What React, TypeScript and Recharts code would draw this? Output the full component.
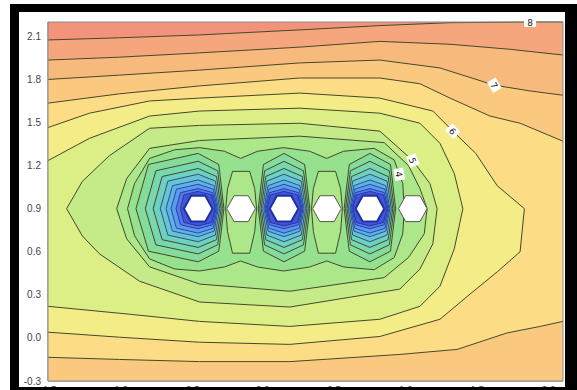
import React from 'react';
import { ScatterChart, Scatter, XAxis, YAxis } from 'recharts';

type Pt = [number, number];

const X_MIN = -1.5;
const X_MAX = 2.1;
const Y_MIN = -0.3;
const Y_MAX = 2.2;
const xTicks = [-1.5, -1.0, -0.5, 0, 0.5, 1.0, 1.5, 2.0];
const yTicks = [-0.3, 0, 0.3, 0.6, 0.9, 1.2, 1.5, 1.8, 2.1];

// open contours running from the left edge to the right edge (levels 8 .. 6.5)
const c80: Pt[] = [[-1.5, 2.075], [-1.0, 2.09], [-0.44, 2.11], [0.26, 2.145], [0.82, 2.175], [1.31, 2.195], [1.87, 2.2], [2.1, 2.2]];
const c75: Pt[] = [[-1.5, 1.935], [-1.0, 1.955], [-0.44, 1.985], [0.26, 2.025], [0.82, 2.065], [1.31, 2.045], [1.73, 2.01], [2.1, 1.97]];
const c70: Pt[] = [[-1.5, 1.8], [-1.0, 1.83], [-0.44, 1.865], [0.26, 1.915], [0.82, 1.935], [1.24, 1.88], [1.62, 1.76], [1.87, 1.72], [2.1, 1.69]];
const c65Top: Pt[] = [[-1.5, 1.635], [-1.0, 1.7], [-0.44, 1.755], [0.26, 1.81], [0.82, 1.81], [1.1, 1.77], [1.31, 1.67], [1.59, 1.545], [1.8, 1.495], [2.1, 1.37]];
const c65Bottom: Pt[] = [[-1.5, -0.135], [-1.0, -0.15], [-0.44, -0.165], [0.19, -0.165], [0.96, -0.115], [1.36, -0.08], [1.71, 0.035], [1.94, 0.08], [2.1, 0.115]];

// contours that leave the left edge and come back to it (6 and 5.5)
const c60: Pt[] = [[-1.5, 1.465], [-1.21, 1.565], [-0.79, 1.65], [-0.44, 1.67], [0.26, 1.705], [0.82, 1.67], [1.19, 1.58], [1.33, 1.44], [1.49, 1.285], [1.64, 1.06], [1.83, 0.9], [1.8, 0.6], [1.64, 0.46], [1.45, 0.305], [1.24, 0.13], [0.82, 0.01], [0.19, -0.045], [-0.44, -0.03], [-1.0, 0.005], [-1.5, 0.04]];
const c55: Pt[] = [[-1.5, 1.235], [-1.21, 1.39], [-0.79, 1.545], [-0.44, 1.58], [0.26, 1.6], [0.82, 1.565], [1.1, 1.495], [1.24, 1.355], [1.34, 1.145], [1.4, 0.9], [1.34, 0.62], [1.24, 0.36], [1.1, 0.22], [0.82, 0.13], [0.19, 0.08], [-0.44, 0.115], [-0.93, 0.165], [-1.5, 0.22]];

// closed contours around the whole row of electrodes (5, 4.5, 4)
const c50: Pt[] = [[-1.37, 0.9], [-1.26, 1.09], [-1.07, 1.27], [-0.79, 1.46], [-0.44, 1.48], [0.26, 1.495], [0.82, 1.44], [1.05, 1.235], [1.17, 1.075], [1.22, 0.9], [1.19, 0.655], [1.1, 0.48], [0.96, 0.34], [0.19, 0.215], [-0.44, 0.25], [-0.86, 0.395], [-1.14, 0.585], [-1.26, 0.71]];
const c45: Pt[] = [[-1.02, 0.9], [-0.95, 1.11], [-0.79, 1.32], [-0.44, 1.375], [0.26, 1.405], [0.85, 1.36], [1.02, 1.2], [1.1, 1.04], [1.15, 0.9], [1.13, 0.725], [1.02, 0.56], [0.85, 0.42], [0.19, 0.325], [-0.44, 0.375], [-0.79, 0.495], [-0.95, 0.69]];
const c40: Pt[] = [[-0.944, 0.9], [-0.895, 1.075], [-0.79, 1.25], [-0.615, 1.31], [-0.44, 1.325], [-0.266, 1.3], [-0.154, 1.25], [-0.035, 1.3], [0.147, 1.325], [0.329, 1.3], [0.448, 1.25], [0.566, 1.3], [0.78, 1.32], [0.92, 1.24], [0.98, 1.075], [0.99, 0.9], [0.98, 0.725], [0.92, 0.56], [0.78, 0.475], [0.566, 0.494], [0.448, 0.536], [0.329, 0.494], [0.147, 0.466], [-0.035, 0.494], [-0.154, 0.536], [-0.266, 0.494], [-0.44, 0.466], [-0.615, 0.48], [-0.79, 0.55], [-0.895, 0.711]];

// 4.0 islands around the two inner white electrodes
const lensLeft: Pt[] = [[-0.21, 1.16], [-0.09, 1.16], [-0.055, 1.04], [-0.042, 0.9], [-0.055, 0.74], [-0.09, 0.59], [-0.21, 0.59], [-0.245, 0.74], [-0.258, 0.9], [-0.245, 1.04]];
const lensRight: Pt[] = [[0.39, 1.16], [0.51, 1.16], [0.545, 1.04], [0.558, 0.9], [0.545, 0.74], [0.51, 0.59], [0.39, 0.59], [0.355, 0.74], [0.342, 0.9], [0.355, 1.04]];

// rings around the three blue electrodes, levels 3.5, 3.0 ... 0.0
const ringsA: Pt[][] = [
  [[-0.27, 0.9], [-0.306, 1.208], [-0.45, 1.285], [-0.798, 1.208], [-0.885, 0.9], [-0.798, 0.604], [-0.45, 0.53], [-0.306, 0.604]],
  [[-0.28, 0.9], [-0.314, 1.164], [-0.45, 1.23], [-0.746, 1.164], [-0.82, 0.9], [-0.746, 0.648], [-0.45, 0.585], [-0.314, 0.648]],
  [[-0.29, 0.9], [-0.322, 1.124], [-0.45, 1.18], [-0.702, 1.124], [-0.765, 0.9], [-0.702, 0.684], [-0.45, 0.63], [-0.322, 0.684]],
  [[-0.3, 0.9], [-0.33, 1.092], [-0.45, 1.14], [-0.662, 1.092], [-0.715, 0.9], [-0.662, 0.716], [-0.45, 0.67], [-0.33, 0.716]],
  [[-0.31, 0.9], [-0.338, 1.06], [-0.45, 1.1], [-0.63, 1.06], [-0.675, 0.9], [-0.63, 0.744], [-0.45, 0.705], [-0.338, 0.744]],
  [[-0.317, 0.9], [-0.344, 1.036], [-0.45, 1.07], [-0.602, 1.036], [-0.64, 0.9], [-0.602, 0.764], [-0.45, 0.73], [-0.344, 0.764]],
  [[-0.324, 0.9], [-0.349, 1.012], [-0.45, 1.04], [-0.574, 1.012], [-0.605, 0.9], [-0.574, 0.788], [-0.45, 0.76], [-0.349, 0.788]],
  [[-0.331, 0.9], [-0.355, 0.996], [-0.45, 1.02], [-0.55, 0.996], [-0.575, 0.9], [-0.55, 0.804], [-0.45, 0.78], [-0.355, 0.804]],
];
const ringsB: Pt[][] = [
  [[0.33, 0.9], [0.294, 1.208], [0.15, 1.285], [0.006, 1.208], [-0.03, 0.9], [0.006, 0.604], [0.15, 0.53], [0.294, 0.604]],
  [[0.32, 0.9], [0.286, 1.164], [0.15, 1.23], [0.014, 1.164], [-0.02, 0.9], [0.014, 0.648], [0.15, 0.585], [0.286, 0.648]],
  [[0.31, 0.9], [0.278, 1.124], [0.15, 1.18], [0.022, 1.124], [-0.01, 0.9], [0.022, 0.684], [0.15, 0.63], [0.278, 0.684]],
  [[0.3, 0.9], [0.27, 1.092], [0.15, 1.14], [0.03, 1.092], [0.0, 0.9], [0.03, 0.716], [0.15, 0.67], [0.27, 0.716]],
  [[0.29, 0.9], [0.262, 1.06], [0.15, 1.1], [0.038, 1.06], [0.01, 0.9], [0.038, 0.744], [0.15, 0.705], [0.262, 0.744]],
  [[0.283, 0.9], [0.256, 1.036], [0.15, 1.07], [0.044, 1.036], [0.017, 0.9], [0.044, 0.764], [0.15, 0.73], [0.256, 0.764]],
  [[0.276, 0.9], [0.251, 1.012], [0.15, 1.04], [0.049, 1.012], [0.024, 0.9], [0.049, 0.788], [0.15, 0.76], [0.251, 0.788]],
  [[0.269, 0.9], [0.245, 0.996], [0.15, 1.02], [0.055, 0.996], [0.031, 0.9], [0.055, 0.804], [0.15, 0.78], [0.245, 0.804]],
];
const ringsC: Pt[][] = [
  [[0.93, 0.9], [0.894, 1.208], [0.75, 1.285], [0.606, 1.208], [0.57, 0.9], [0.606, 0.604], [0.75, 0.53], [0.894, 0.604]],
  [[0.92, 0.9], [0.886, 1.164], [0.75, 1.23], [0.614, 1.164], [0.58, 0.9], [0.614, 0.648], [0.75, 0.585], [0.886, 0.648]],
  [[0.91, 0.9], [0.878, 1.124], [0.75, 1.18], [0.622, 1.124], [0.59, 0.9], [0.622, 0.684], [0.75, 0.63], [0.878, 0.684]],
  [[0.9, 0.9], [0.87, 1.092], [0.75, 1.14], [0.63, 1.092], [0.6, 0.9], [0.63, 0.716], [0.75, 0.67], [0.87, 0.716]],
  [[0.89, 0.9], [0.862, 1.06], [0.75, 1.1], [0.638, 1.06], [0.61, 0.9], [0.638, 0.744], [0.75, 0.705], [0.862, 0.744]],
  [[0.883, 0.9], [0.856, 1.036], [0.75, 1.07], [0.644, 1.036], [0.617, 0.9], [0.644, 0.764], [0.75, 0.73], [0.856, 0.764]],
  [[0.876, 0.9], [0.851, 1.012], [0.75, 1.04], [0.649, 1.012], [0.624, 0.9], [0.649, 0.788], [0.75, 0.76], [0.851, 0.788]],
  [[0.869, 0.9], [0.845, 0.996], [0.75, 1.02], [0.655, 0.996], [0.631, 0.9], [0.655, 0.804], [0.75, 0.78], [0.845, 0.804]],
];

// electrodes (blue = driven, white = floating)
const blueHexes: Pt[][] = [
  [[-0.55, 0.9], [-0.5, 0.99], [-0.4, 0.99], [-0.35, 0.9], [-0.4, 0.81], [-0.5, 0.81]],
  [[0.05, 0.9], [0.1, 0.99], [0.2, 0.99], [0.25, 0.9], [0.2, 0.81], [0.1, 0.81]],
  [[0.65, 0.9], [0.7, 0.99], [0.8, 0.99], [0.85, 0.9], [0.8, 0.81], [0.7, 0.81]],
];
const whiteHexes: Pt[][] = [
  [[-0.25, 0.9], [-0.2, 0.99], [-0.1, 0.99], [-0.05, 0.9], [-0.1, 0.81], [-0.2, 0.81]],
  [[0.35, 0.9], [0.4, 0.99], [0.5, 0.99], [0.55, 0.9], [0.5, 0.81], [0.4, 0.81]],
  [[0.95, 0.9], [1.0, 0.99], [1.1, 0.99], [1.15, 0.9], [1.1, 0.81], [1.0, 0.81]],
];

const contourLabels = [
  { text: '8', x: 1.87, y: 2.2 },
  { text: '7', x: 1.62, y: 1.76 },
  { text: '6', x: 1.33, y: 1.44 },
  { text: '5', x: 1.05, y: 1.235 },
  { text: '4', x: 0.955, y: 1.14 },
];
const labelAngle: Record<string, number> = { '8': 0, '7': 60, '6': 45, '5': 70, '4': 80 };

const LINE = '#45482c';
const RING_FILL = ['#85dc9a', '#77d7ae', '#6cd1c3', '#64c5d8', '#5db3e5', '#5a9bea', '#5479e2', '#4156d2'];
const RING_LINE = [LINE, LINE, LINE, '#3d5068', '#34508f', '#2f48a8', '#2a3fb5', '#2535b8'];

const toXY = (a: Pt[]) => a.map(([x, y]) => ({ x, y }));
const noDot = () => <g />;
const corners: Pt[] = [[X_MAX, Y_MIN], [X_MIN, Y_MIN]];
const frame: Pt[] = [[X_MIN, Y_MIN], [X_MIN, Y_MAX], [X_MAX, Y_MAX], [X_MAX, Y_MIN]];

const area = (key: string, poly: Pt[], fill: string) => (
  <Scatter key={key} data={toXY(poly)} shape={noDot} isAnimationActive={false} legendType="none"
    line={{ fill, stroke: 'none' }} lineJointType="linear" />
);
const contour = (key: string, pts: Pt[], closed: boolean, stroke = LINE, width = 1, fill = 'none') => (
  <Scatter key={key} data={toXY(pts)} shape={noDot} isAnimationActive={false} legendType="none"
    line={{ fill, stroke, strokeWidth: width }} lineJointType={closed ? 'linearClosed' : 'linear'} />
);

const LabelBox = (props: any) => {
  const { cx, cy, payload } = props;
  return (
    <g transform={`translate(${cx},${cy}) rotate(${labelAngle[payload.text]})`}>
      <rect x={-6} y={-5} width={12} height={10} fill="#ffffff" />
      <text x={0} y={3.5} textAnchor="middle" fontSize={9} fontFamily="DejaVu Sans" fill="#222">{payload.text}</text>
    </g>
  );
};

const bar = (style: React.CSSProperties) => (
  <div style={{ position: 'absolute', background: '#000', ...style }} />
);

export default function App() {
  const rings = [ringsA, ringsB, ringsC];
  return (
    <div style={{ position: 'absolute', left: 0, top: 0, width: 577, height: 390, overflow: 'hidden', background: '#fff' }}>
      <div style={{ position: 'absolute', left: 0, top: 0 }}>
        <ScatterChart width={577} height={412} margin={{ top: 22, right: 14, bottom: 0, left: 8 }}>
          <XAxis type="number" dataKey="x" domain={[X_MIN, X_MAX]} ticks={xTicks} height={31}
            tickFormatter={(v: number) => v.toFixed(1)} tickLine={false} tickSize={0} tickMargin={6}
            axisLine={{ stroke: '#777' }} tick={{ fontSize: 10, fill: '#444', fontFamily: 'Liberation Sans' }} />
          <YAxis type="number" dataKey="y" domain={[Y_MIN, Y_MAX]} ticks={yTicks} width={40}
            tickFormatter={(v: number) => v.toFixed(1)} tickLine={false} tickSize={0} tickMargin={7}
            axisLine={{ stroke: '#777' }} tick={{ fontSize: 10, fill: '#444', fontFamily: 'Liberation Sans' }} />
          <XAxis xAxisId="in" type="number" domain={[X_MIN, X_MAX]} ticks={xTicks} mirror tick={false}
            tickSize={9} axisLine={false} tickLine={{ stroke: '#555' }} />
          <YAxis yAxisId="in" type="number" domain={[Y_MIN, Y_MAX]} ticks={yTicks} mirror tick={false}
            tickSize={10} axisLine={false} tickLine={{ stroke: '#555' }} />

          {area('bg', frame, '#f4937b')}
          {area('f80', [...c80, ...corners], '#f6a67c')}
          {area('f75', [...c75, ...corners], '#f8b97d')}
          {area('f70', [...c70, ...corners], '#fac97f')}
          {area('f65t', [...c65Top, ...corners], '#fcdc84')}
          {area('f65b', [...c65Bottom, ...corners], '#fac97f')}
          {area('f60', c60, '#f4ec87')}
          {area('f55', c55, '#dcef87')}
          {area('f50', c50, '#c4eb88')}
          {area('f45', c45, '#ace78a')}
          {area('f40', c40, '#96e18d')}
          {area('fl1', lensLeft, '#ace78a')}
          {area('fl2', lensRight, '#ace78a')}
          {rings.map((set, h) => set.map((ring, k) => area(`r${h}-${k}`, ring, RING_FILL[k])))}

          {contour('l80', c80, false)}
          {contour('l75', c75, false)}
          {contour('l70', c70, false)}
          {contour('l65t', c65Top, false)}
          {contour('l65b', c65Bottom, false)}
          {contour('l60', c60, false)}
          {contour('l55', c55, false)}
          {contour('l50', c50, true)}
          {contour('l45', c45, true)}
          {contour('l40', c40, true)}
          {contour('ll1', lensLeft, true)}
          {contour('ll2', lensRight, true)}
          {rings.map((set, h) => set.map((ring, k) => contour(`rl${h}-${k}`, ring, true, RING_LINE[k])))}

          {blueHexes.map((hx, i) => contour(`bh${i}`, hx, true, '#1f2fa8', 2, '#ffffff'))}
          {whiteHexes.map((hx, i) => contour(`wh${i}`, hx, true, '#555', 1, '#ffffff'))}
          {contour('frame', frame, true, '#8a8a8a', 1)}

          <Scatter data={contourLabels} shape={LabelBox} isAnimationActive={false} legendType="none" />
        </ScatterChart>
      </div>
      {bar({ left: 10, top: 4, width: 556, height: 8 })}
      {bar({ left: 10, top: 4, width: 9, height: 386 })}
      {bar({ left: 565, top: 4, width: 12, height: 386 })}
      {bar({ left: 10, top: 387, width: 567, height: 3 })}
    </div>
  );
}
